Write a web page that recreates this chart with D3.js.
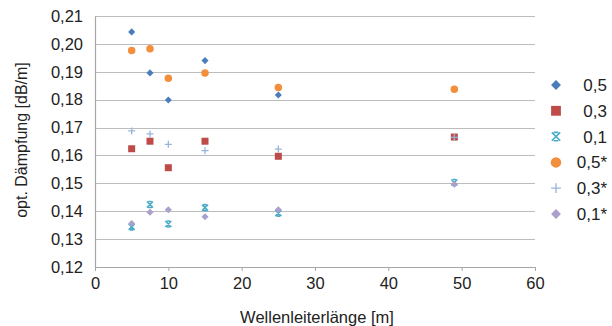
<!DOCTYPE html>
<html>
<head>
<meta charset="utf-8">
<script src="https://cdn.jsdelivr.net/npm/d3@7"></script>
<style>
  body { margin: 0; background: #fff; }
  svg { display: block; font-family: 'Liberation Sans', Arial, sans-serif; }
</style>
</head>
<body>
<div id="chart"></div>
<script>
const xPositions = [5, 7.5, 10, 15, 25, 49]
const seriesNames = ['0,5', '0,3', '0,1', '0,5*', '0,3*', '0,1*']
const values05 = [0.2043, 0.1896, 0.1799, 0.194, 0.1817, null]
const values03 = [0.1624, 0.1651, 0.1556, 0.1651, 0.1597, 0.1666]
const values01 = [0.1344, 0.1424, 0.1354, 0.1413, 0.1393, 0.1503]
const values05s = [0.1976, 0.1983, 0.1877, 0.1896, 0.1844, 0.1837]
const values03s = [0.1688, 0.1677, 0.164, 0.1617, 0.1623, 0.1665]
const values01s = [0.1356, 0.1396, 0.1405, 0.138, 0.1405, 0.1497]
const xTicks = [0, 10, 20, 30, 40, 50, 60]
const yTicks = [0.12, 0.13, 0.14, 0.15, 0.16, 0.17, 0.18, 0.19, 0.20, 0.21]

const width = 612
const height = 326
const margin = { left: 95, right: 77, top: 16, bottom: 59 }

const colors = ['#4a7ebb', '#be4b48', '#4bacc6', '#f28e3c', '#98b4dc', '#ab9fcb']
const kinds = ['diamond', 'square', 'xbar', 'circle', 'plus', 'diamond']
const allValues = [values05, values03, values01, values05s, values03s, values01s]

const svg = d3.select('#chart').append('svg').attr('width', width).attr('height', height)

const x = d3.scaleLinear().domain([0, 60]).range([margin.left, width - margin.right])
const y = d3.scaleLinear().domain([0.12, 0.21]).range([height - margin.bottom, margin.top])

const fmt = (d) => d3.format('.2f')(d).replace('.', ',')

// gridlines
svg.append('g')
  .selectAll('line')
  .data(yTicks.slice(1))
  .join('line')
  .attr('x1', x(0)).attr('x2', x(60))
  .attr('y1', (d) => Math.round(y(d)) + 0.5).attr('y2', (d) => Math.round(y(d)) + 0.5)
  .attr('stroke', '#bcbcbc').attr('stroke-width', 1.2)

// y axis
const yAxis = svg.append('g')
  .attr('transform', `translate(${x(0)},0)`)
  .call(d3.axisLeft(y).tickValues(yTicks).tickFormat(fmt).tickSize(0).tickPadding(12))
yAxis.select('.domain').attr('stroke', '#a6a6a6').attr('stroke-width', 1.2)
yAxis.selectAll('text').attr('font-size', 16.5).attr('fill', '#222')

// x axis
const xAxis = svg.append('g')
  .attr('transform', `translate(0,${y(0.12)})`)
  .call(d3.axisBottom(x).tickValues(xTicks).tickSize(4).tickPadding(6).tickSizeOuter(0))
xAxis.select('.domain').attr('stroke', '#a6a6a6').attr('stroke-width', 1.2)
xAxis.selectAll('line').attr('stroke', '#a6a6a6')
xAxis.selectAll('text').attr('font-size', 16.5).attr('fill', '#222')

svg.append('text')
  .attr('x', 317).attr('y', 323)
  .attr('text-anchor', 'middle')
  .attr('font-size', 16.5).attr('fill', '#222')
  .text('Wellenleiterlänge [m]')

svg.append('text')
  .attr('transform', 'translate(27,140) rotate(-90)')
  .attr('text-anchor', 'middle')
  .attr('font-size', 16).attr('fill', '#222')
  .text('opt. Dämpfung [dB/m]')

function marker(g, kind, color, s) {
  if (kind === 'diamond') {
    g.append('rect').attr('x', -s / 2).attr('y', -s / 2).attr('width', s).attr('height', s)
      .attr('transform', 'rotate(45)').attr('fill', color)
  } else if (kind === 'square') {
    g.append('rect').attr('x', -s / 2).attr('y', -s / 2).attr('width', s).attr('height', s).attr('fill', color)
  } else if (kind === 'circle') {
    g.append('circle').attr('r', s / 2).attr('fill', color)
  } else if (kind === 'plus') {
    const h = s / 2
    g.append('path').attr('d', `M${-h},0H${h}M0,${-h}V${h}`).attr('stroke', color).attr('stroke-width', 1.3)
  } else if (kind === 'xbar') {
    // x with short caps top and bottom
    const h = s / 2
    const c = h * 0.55
    g.append('path')
      .attr('d', `M${-h},${-h}L${h},${h}M${h},${-h}L${-h},${h}M${-c},${-h}H${c}M${-c},${h}H${c}`)
      .attr('stroke', color).attr('stroke-width', 1.6)
  }
}

const sizes = { diamond: 5, square: 7, circle: 7.5, plus: 7, xbar: 6 }

allValues.forEach((vals, i) => {
  const g = svg.append('g').attr('class', 'series-' + i)
  vals.forEach((v, j) => {
    if (v == null) return
    const p = g.append('g').attr('transform', `translate(${x(xPositions[j])},${y(v)})`)
    marker(p, kinds[i], colors[i], sizes[kinds[i]])
  })
})

// legend
const legend = svg.append('g')
seriesNames.forEach((name, i) => {
  const ly = 85 + i * 25.8
  const m = legend.append('g').attr('transform', `translate(556,${ly})`)
  marker(m, kinds[i], colors[i], sizes[kinds[i]] * 1.4)
  legend.append('text')
    .attr('x', 607).attr('y', ly).attr('dy', '0.35em')
    .attr('text-anchor', 'end')
    .attr('font-size', 17).attr('fill', '#222')
    .text(name)
})
</script>
</body>
</html>
